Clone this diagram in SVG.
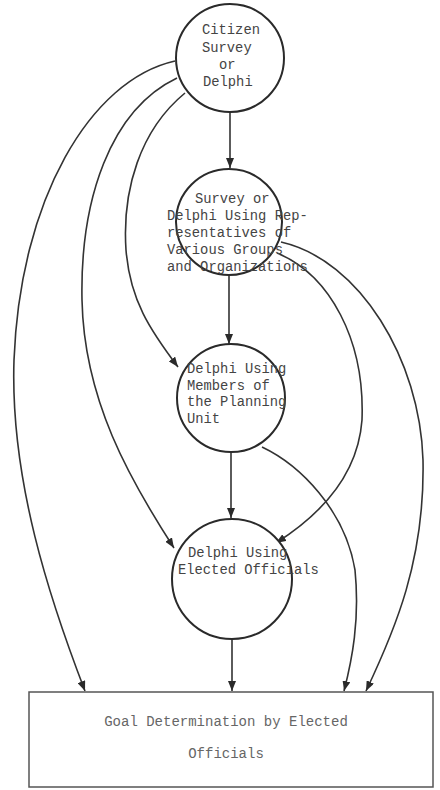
<svg xmlns="http://www.w3.org/2000/svg" width="440" height="790" viewBox="0 0 440 790">
<defs>
<marker id="ah" markerUnits="userSpaceOnUse" markerWidth="10" markerHeight="8" refX="10" refY="4" orient="auto">
<path d="M0,0 L10,4 L0,8 Z" fill="#2a2a2a"/>
</marker>
<style>
.node{fill:#fff;stroke:#2a2a2a;stroke-width:2}
.lbl{font-family:"Liberation Mono","DejaVu Sans Mono",monospace;font-size:13.8px;fill:#444}
.box{fill:#fff;stroke:#555;stroke-width:1.5}
.boxlbl{font-family:"Liberation Mono","DejaVu Sans Mono",monospace;font-size:14px;fill:#666;text-anchor:middle}
.c{fill:none;stroke:#333;stroke-width:1.6;marker-end:url(#ah)}
</style>
</defs>
<rect width="440" height="790" fill="#fff"/>
<g id="connectors">
<path class="c" d="M175,61 C90,80 20,200 14,360 C10,480 50,600 85,691"/>
<path class="c" d="M177,78 C110,110 80,200 82,300 C84,400 130,480 174,548"/>
<path class="c" d="M185,93 C140,130 122,190 126,250 C130,300 150,330 178,367"/>
<path class="c" d="M281,242 C360,260 420,360 423,460 C425,560 395,630 366,691"/>
<path class="c" d="M277,253 C330,275 365,340 362,420 C358,475 320,515 276,543"/>
<path class="c" d="M262,447 C300,465 345,510 355,570 C360,620 352,660 344,691"/>
<path class="c" d="M230,112 L230,168"/>
<path class="c" d="M229,275 L229,344"/>
<path class="c" d="M231,452 L231,518"/>
<path class="c" d="M232,639 L232,691"/>
</g>
<g id="n1">
<circle class="node" cx="230" cy="58" r="54"/>
<text class="lbl" x="202" y="34">Citizen</text>
<text class="lbl" x="202" y="52">Survey</text>
<text class="lbl" x="219" y="69">or</text>
<text class="lbl" x="203" y="86">Delphi</text>
</g>
<g id="n2">
<circle class="node" cx="229" cy="222" r="53"/>
<text class="lbl" x="195" y="203">Survey or</text>
<text class="lbl" x="167" y="220">Delphi Using Rep-</text>
<text class="lbl" x="167" y="237">resentatives of</text>
<text class="lbl" x="167" y="254">Various Groups</text>
<text class="lbl" x="167" y="271">and Organizations</text>
</g>
<g id="n3">
<circle class="node" cx="231" cy="398" r="54"/>
<text class="lbl" x="187" y="373">Delphi Using</text>
<text class="lbl" x="187" y="390">Members of</text>
<text class="lbl" x="187" y="406">the Planning</text>
<text class="lbl" x="187" y="423">Unit</text>
</g>
<g id="n4">
<circle class="node" cx="232" cy="579" r="60"/>
<text class="lbl" x="188" y="557">Delphi Using</text>
<text class="lbl" x="178" y="574">Elected Officials</text>
</g>
<g id="n5">
<rect class="box" x="29" y="692" width="404" height="95"/>
<text class="boxlbl" x="226" y="726">Goal Determination by Elected</text>
<text class="boxlbl" x="226" y="758">Officials</text>
</g>
</svg>
